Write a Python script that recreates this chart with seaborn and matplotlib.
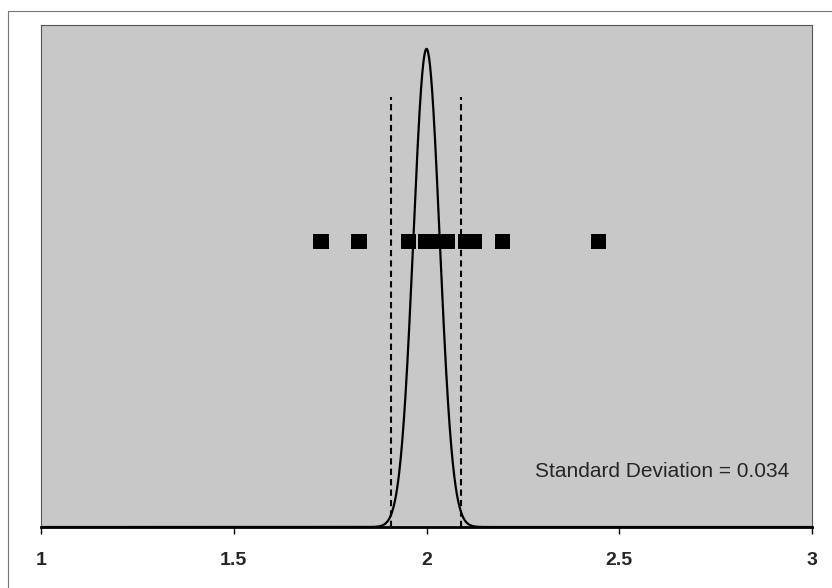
import numpy as np
import pandas as pd
import seaborn as sns
import matplotlib.pyplot as plt
from matplotlib.lines import Line2D

# values
mean_val = 2.0
sd_val = 0.034
sample_x = [1.726, 1.825, 1.953, 1.997, 2.027, 2.054, 2.101, 2.124, 2.198, 2.447]
sample_level = 7.0
bounds = [1.908, 2.090]
xticks = [1, 1.5, 2, 2.5, 3]
xtick_labels = ['1', '1.5', '2', '2.5', '3']
label = 'Standard Deviation = 0.034'

sns.set_theme(style='white')
plt.rcParams['font.family'] = ['Liberation Sans', 'DejaVu Sans']

fig = plt.figure(figsize=(8.32, 5.88), dpi=100)
ax = fig.add_axes([0.0493, 0.1037, 0.9267, 0.8538])
ax.set_facecolor('#c8c8c8')

# normal curve for the stated mean and standard deviation
grid = np.linspace(1, 3, 2001)
curve = pd.DataFrame({'x': grid,
                      'y': np.exp(-0.5 * ((grid - mean_val) / sd_val) ** 2) / (sd_val * np.sqrt(2 * np.pi))})
sns.lineplot(data=curve, x='x', y='y', color='black', linewidth=1.6, ax=ax)

pts = pd.DataFrame({'x': sample_x, 'y': [sample_level] * len(sample_x)})
sns.scatterplot(data=pts, x='x', y='y', marker='s', s=120, color='black',
                edgecolor='none', ax=ax, zorder=3)

for b in bounds:
    ax.axvline(b, ymin=0, ymax=0.857, color='black', linestyle=(0, (3, 2)), linewidth=1.5)

ax.text(0.97, 0.11, label, transform=ax.transAxes, ha='right', va='center', fontsize=15)

ax.set_xlim(1, 3)
ax.set_ylim(0, 12.32)
ax.set_xticks(xticks)
ax.set_xticklabels(xtick_labels, fontsize=14, fontweight='bold')
ax.set_yticks([])
ax.set_xlabel('')
ax.set_ylabel('')
ax.tick_params(axis='x', direction='out', length=5, width=1, color='black', pad=13, bottom=True)

for side in ['left', 'top', 'right']:
    ax.spines[side].set_color('#555555')
    ax.spines[side].set_linewidth(0.8)
ax.spines['bottom'].set_color('black')
ax.spines['bottom'].set_linewidth(2)

# scanned page frame (left and top only)
fig.add_artist(Line2D([8 / 832, 8 / 832], [0, 1 - 11 / 588], transform=fig.transFigure, color='#777777', lw=0.8))
fig.add_artist(Line2D([8 / 832, 1], [1 - 11 / 588, 1 - 11 / 588], transform=fig.transFigure, color='#777777', lw=0.8))

fig.savefig('out.png', dpi=100)
plt.close(fig)
